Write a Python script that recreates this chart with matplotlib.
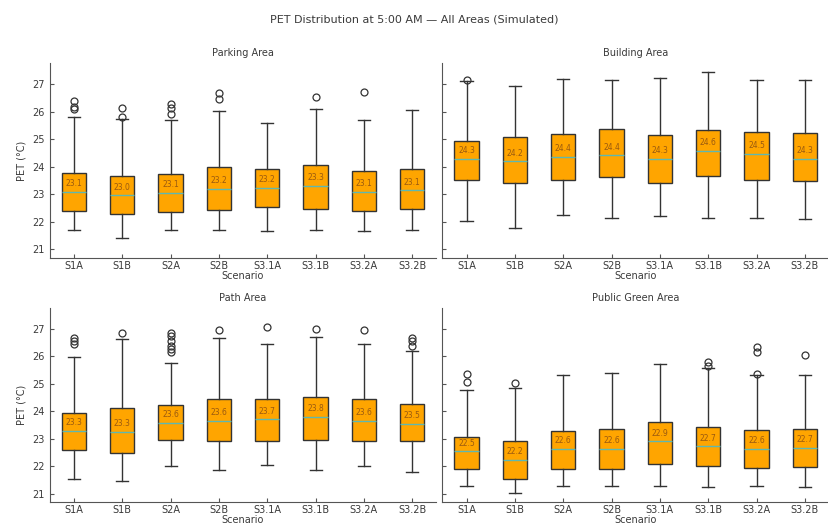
import numpy as np
import matplotlib.pyplot as plt

scenarios = ['S1A', 'S1B', 'S2A', 'S2B', 'S3.1A', 'S3.1B', 'S3.2A', 'S3.2B']
areas = ['Parking Area', 'Building Area', 'Path Area', 'Public Green Area']

# box statistics per area (°C), one value per scenario
parking_lo = [21.68, 21.39, 21.68, 21.68, 21.65, 21.68, 21.66, 21.68]
parking_q1 = [22.37, 22.26, 22.36, 22.42, 22.54, 22.45, 22.40, 22.45]
parking_med = [23.09, 22.96, 23.06, 23.20, 23.24, 23.30, 23.09, 23.14]
parking_q3 = [23.76, 23.65, 23.74, 23.98, 23.92, 24.05, 23.86, 23.92]
parking_hi = [25.79, 25.73, 25.71, 26.04, 25.60, 26.10, 25.71, 26.08]
parking_out = [[26.40, 26.16, 26.10], [26.13, 25.80], [26.28, 26.13, 25.92],
               [26.68, 26.46], [], [26.55], [26.70], []]

building_lo = [22.04, 21.78, 22.24, 22.12, 22.21, 22.12, 22.14, 22.09]
building_q1 = [23.51, 23.41, 23.50, 23.63, 23.41, 23.65, 23.53, 23.47]
building_med = [24.29, 24.19, 24.35, 24.41, 24.29, 24.57, 24.47, 24.29]
building_q3 = [24.94, 25.09, 25.18, 25.36, 25.17, 25.35, 25.27, 25.24]
building_hi = [27.10, 26.94, 27.20, 27.16, 27.23, 27.45, 27.16, 27.14]
building_out = [[27.14], [], [], [], [], [], [], []]

path_lo = [21.52, 21.46, 22.02, 21.85, 22.06, 21.85, 22.02, 21.78]
path_q1 = [22.60, 22.48, 22.96, 22.92, 22.92, 22.96, 22.92, 22.92]
path_med = [23.29, 23.26, 23.58, 23.65, 23.70, 23.80, 23.65, 23.53]
path_q3 = [23.95, 24.13, 24.24, 24.43, 24.43, 24.52, 24.43, 24.28]
path_hi = [25.96, 26.64, 25.74, 26.68, 26.44, 26.71, 26.44, 26.20]
path_out = [[26.65, 26.56, 26.44], [26.86],
            [26.86, 26.74, 26.56, 26.38, 26.28, 26.14],
            [26.95], [27.07], [26.98], [26.95], [26.65, 26.56, 26.38]]

green_lo = [21.28, 21.04, 21.28, 21.28, 21.28, 21.25, 21.28, 21.25]
green_q1 = [21.88, 21.55, 21.88, 21.91, 22.09, 22.00, 21.94, 21.96]
green_med = [22.54, 22.24, 22.62, 22.63, 22.90, 22.72, 22.62, 22.66]
green_q3 = [23.05, 22.93, 23.29, 23.34, 23.59, 23.44, 23.32, 23.34]
green_hi = [24.76, 24.84, 25.32, 25.38, 25.72, 25.57, 25.32, 25.32]
green_out = [[25.36, 25.06], [25.02], [], [], [], [25.80, 25.66],
             [26.32, 26.14, 25.36], [26.05]]

area_stats = [
    (parking_lo, parking_q1, parking_med, parking_q3, parking_hi, parking_out),
    (building_lo, building_q1, building_med, building_q3, building_hi, building_out),
    (path_lo, path_q1, path_med, path_q3, path_hi, path_out),
    (green_lo, green_q1, green_med, green_q3, green_hi, green_out),
]

txt = '#3a3a3a'
plt.rcParams['font.family'] = 'DejaVu Sans'
plt.rcParams['font.size'] = 7

fig, axes = plt.subplots(2, 2, figsize=(8.29, 5.30), dpi=100, sharey=True)
fig.subplots_adjust(left=0.060, right=1.0, top=0.881, bottom=0.052,
                    wspace=0.0155, hspace=0.255)

for ax, name, (lo, q1, med, q3, hi, out) in zip(axes.flat, areas, area_stats):
    stats = []
    for i, lab in enumerate(scenarios):
        stats.append(dict(label=lab, whislo=lo[i], q1=q1[i], med=med[i],
                          q3=q3[i], whishi=hi[i], fliers=out[i]))
    ax.bxp(stats, patch_artist=True, widths=0.5,
           boxprops=dict(facecolor='#ffa500', edgecolor='#333333', linewidth=1.0),
           medianprops=dict(color='#5fb8b0', linewidth=1.0),
           whiskerprops=dict(color='#333333', linewidth=1.0),
           capprops=dict(color='#333333', linewidth=1.0),
           flierprops=dict(marker='o', markersize=5, markerfacecolor='none',
                           markeredgecolor='#333333', markeredgewidth=0.9))
    for i, m in enumerate(med):
        ax.text(i + 1, m + 0.3, f'{m:.1f}', ha='center', va='center',
                fontsize=5.5, color='#9a5a10')
    ax.set_title(name, fontsize=7, color=txt, pad=5)
    ax.set_xlabel('Scenario', fontsize=7, color=txt, labelpad=0)
    ax.spines['top'].set_visible(False)
    ax.spines['right'].set_visible(False)
    for s in ['left', 'bottom']:
        ax.spines[s].set_color('#555555')
    ax.tick_params(direction='in', length=3, colors='#555555',
                   labelcolor=txt, labelsize=7)
    ax.tick_params(axis='x', pad=2)
    ax.set_ylim(20.68, 27.77)
    ax.set_yticks([21, 22, 23, 24, 25, 26, 27])

for ax in axes[:, 0]:
    ax.set_ylabel('PET (°C)', fontsize=7, color=txt)

fig.suptitle('PET Distribution at 5:00 AM — All Areas (Simulated)',
             fontsize=8, color=txt, y=0.972)

plt.savefig('out.png', dpi=100)
